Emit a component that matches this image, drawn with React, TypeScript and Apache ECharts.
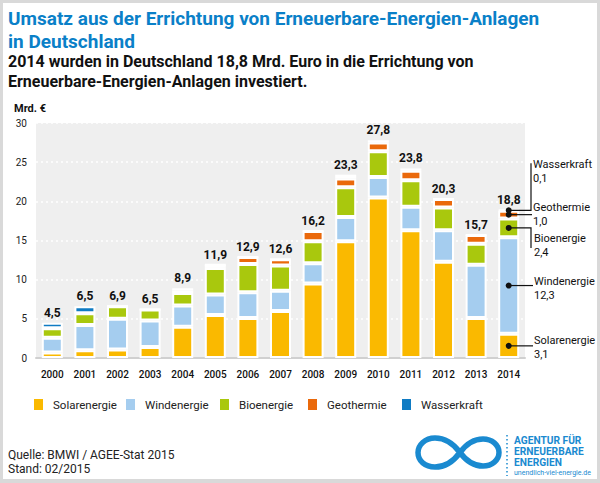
import React, { useEffect, useRef } from "react";
import * as echarts from "echarts";

const years = ["2000", "2001", "2002", "2003", "2004", "2005", "2006", "2007", "2008", "2009", "2010", "2011", "2012", "2013", "2014"];
const solar = [0.7, 1.0, 1.1, 1.4, 4.0, 5.5, 5.1, 6.0, 9.5, 14.9, 20.5, 16.3, 12.3, 5.1, 3.1];
const wind = [1.9, 3.2, 3.9, 3.4, 2.7, 2.6, 3.3, 2.6, 2.6, 3.1, 2.6, 3.0, 4.0, 6.8, 12.3];
const bio = [1.2, 1.5, 1.6, 1.4, 1.6, 3.4, 3.6, 3.2, 2.8, 3.8, 3.3, 3.4, 2.9, 2.7, 2.4];
const geo = [0, 0, 0, 0, 0.3, 0.4, 0.9, 0.8, 1.3, 1.1, 1.1, 1.2, 1.1, 1.1, 1.0];
const wasser = [0.7, 0.9, 0, 0, 0.3, 0, 0, 0, 0, 0.5, 0.3, 0.3, 0, 0, 0.1];
const totals = [4.5, 6.5, 6.9, 6.5, 8.9, 11.9, 12.9, 12.6, 16.2, 23.3, 27.8, 23.8, 20.3, 15.7, 18.8];
const seriesNames = ["Solarenergie", "Windenergie", "Bioenergie", "Geothermie", "Wasserkraft"];
const yMin = 0;
const yMax = 30;
const yStep = 5;

const titleLines = ["Umsatz aus der Errichtung von Erneuerbare-Energien-Anlagen", "in Deutschland"];
const subtitleLines = ["2014 wurden in Deutschland 18,8 Mrd. Euro in die Errichtung von", "Erneuerbare-Energien-Anlagen investiert."];
const unitLabel = "Mrd. €";
const footerLines = ["Quelle: BMWI / AGEE-Stat 2015", "Stand: 02/2015"];
const logoLines = ["AGENTUR FÜR", "ERNEUERBARE", "ENERGIEN"];
const logoUrl = "unendlich-viel-energie.de";

const FONT = "Roboto, 'Liberation Sans', sans-serif";
const COLORS = ["#fab900", "#a5cdef", "#a9c80d", "#ea690b", "#0f7bc3"];
const PALE = ["#fde3a0", "#d6e8f7", "#dbe8a0", "#f7d8c0", "#cfe3f3"];
const FADED: number[][] = [[], [], [], [4, 5], [4, 10, 11]];
const BLUE = "#1a8ad0";
const LEGEND_X = [32, 124, 218, 306, 400];

const INFINITY_D =
  "M45,17.5 C52,8 60,4 68,4 C77,4 84,10 84,17.5 C84,25 77,31 68,31 C60,31 52,27 45,17.5 C38,8 30,3 20,3 C10,3 3,10 3,17.5 C3,26 10,32 20,32 C30,32 38,27 45,17.5 Z";
echarts.graphic.registerShape("aeeInfinity", echarts.graphic.extendPath(INFINITY_D, {}));

const fmt = (v: number) => v.toFixed(1).replace(".", ",");

export default function App() {
  const ref = useRef<HTMLDivElement>(null);

  useEffect(() => {
    if (!ref.current) return;
    const chart = echarts.init(ref.current, null, { renderer: "svg" });
    const layers = [solar, wind, bio, geo, wasser];

    const barSeries: any[] = layers.map((arr, si) => ({
      name: seriesNames[si],
      type: "bar",
      stack: "total",
      barWidth: 21,
      itemStyle: { color: COLORS[si], borderColor: "#ffffff", borderWidth: 2 },
      data: arr.map((v, i) => (FADED[si].includes(i) ? { value: v, itemStyle: { color: PALE[si] } } : v)),
    }));
    barSeries.push({
      name: "Summe",
      type: "bar",
      stack: "total",
      barWidth: 21,
      silent: true,
      itemStyle: { color: "transparent", borderWidth: 0 },
      label: {
        show: true,
        position: "top",
        distance: 4,
        formatter: (p: any) => fmt(totals[p.dataIndex]),
        fontFamily: FONT,
        fontWeight: "bold",
        fontSize: 12,
        color: "#111",
      },
      data: totals.map(() => 0),
    });

    const staticGraphics: any[] = [];
    titleLines.forEach((t, i) =>
      staticGraphics.push({
        type: "text",
        x: 8,
        y: 18 + i * 23,
        style: { text: t, fontFamily: FONT, fontWeight: "bold", fontSize: 19, fill: "#0a80c8", verticalAlign: "middle" },
      })
    );
    subtitleLines.forEach((t, i) =>
      staticGraphics.push({
        type: "text",
        x: 8,
        y: 61 + i * 20,
        style: { text: t, fontFamily: FONT, fontWeight: "bold", fontSize: 16, fill: "#111", verticalAlign: "middle" },
      })
    );
    staticGraphics.push({
      type: "text",
      x: 14,
      y: 108,
      style: { text: unitLabel, fontFamily: FONT, fontWeight: "bold", fontSize: 11, fill: "#111", verticalAlign: "middle" },
    });
    footerLines.forEach((t, i) =>
      staticGraphics.push({
        type: "text",
        x: 8,
        y: 455 + i * 14,
        style: { text: t, fontFamily: FONT, fontSize: 12, fill: "#222", verticalAlign: "middle" },
      })
    );
    // logo
    staticGraphics.push({
      type: "aeeInfinity",
      x: 415,
      y: 435,
      style: { fill: "none", stroke: BLUE, lineWidth: 5.5 },
    });
    staticGraphics.push({
      type: "line",
      shape: { x1: 507, y1: 435, x2: 507, y2: 476 },
      style: { stroke: BLUE, lineWidth: 1.5, lineDash: [1.5, 2.5] },
    });
    logoLines.forEach((t, i) =>
      staticGraphics.push({
        type: "text",
        x: 514,
        y: 440.5 + i * 11,
        style: {
          text: t,
          fontFamily: FONT,
          fontWeight: "bold",
          fontSize: 10.2,
          lineHeight: 10,
          fill: BLUE,
          verticalAlign: "middle",
        },
      })
    );
    staticGraphics.push({
      type: "text",
      x: 514,
      y: 473,
      style: { text: logoUrl, fontFamily: FONT, fontSize: 7, lineHeight: 7, fill: BLUE, verticalAlign: "middle" },
    });
    // frame
    [
      [0, 0, 600, 3],
      [0, 0, 3, 483],
      [597, 0, 3, 483],
      [0, 479, 600, 4],
    ].forEach(([x, y, w, h]) =>
      staticGraphics.push({ type: "rect", shape: { x, y, width: w, height: h }, style: { fill: "#d9d9d9" }, z: 100 })
    );

    const legends = seriesNames.map((name, i) => ({
      data: [name],
      left: LEGEND_X[i],
      top: 397,
      padding: 0,
      icon: "rect",
      itemWidth: 11,
      itemHeight: 13,
      textStyle: { fontFamily: FONT, fontSize: 11.5, color: "#222", padding: [0, 0, 0, 4] },
    }));

    chart.setOption({
      animation: false,
      backgroundColor: "#ffffff",
      textStyle: { fontFamily: FONT },
      grid: { left: 36, top: 123, width: 489, height: 235, show: true, backgroundColor: "#efefef", borderWidth: 0 },
      legend: legends,
      xAxis: {
        type: "category",
        data: years,
        axisTick: { show: false },
        axisLine: { lineStyle: { color: "#d0d0d0", width: 2 } },
        axisLabel: { fontFamily: FONT, fontSize: 10, fontWeight: 500, color: "#111", margin: 11 },
      },
      yAxis: {
        type: "value",
        min: yMin,
        max: yMax,
        interval: yStep,
        axisLine: { show: false },
        axisTick: { show: false },
        axisLabel: { fontFamily: FONT, fontSize: 10, color: "#222", margin: 9 },
        splitLine: { lineStyle: { color: "#ffffff", width: 1.5, type: [2, 3] } },
      },
      series: barSeries,
      graphic: staticGraphics,
    });

    // annotations for the last year
    const last = years.length - 1;
    let cum = 0;
    const pts = layers.map((arr) => {
      const b = cum;
      cum += arr[last];
      return chart.convertToPixel({ gridIndex: 0 } as any, [last, (b + cum) / 2]) as number[];
    });
    const cfg = [
      { lx: 533, vy: 0, tx: 534, ty: 2 },
      { lx: 533, vy: 0, tx: 534, ty: 3 },
      { lx: 531, vy: 20, tx: 534, ty: 18 },
      { lx: 532, vy: 0, tx: 533, ty: 0 },
      { lx: 531, vy: -47, tx: 533, ty: -39 },
    ];
    const ann: any[] = [];
    pts.forEach((p, i) => {
      const c = cfg[i];
      const [x, y] = p;
      const points: number[][] = [[x, y], [c.lx, y]];
      if (c.vy !== 0) points.push([c.lx, y + c.vy]);
      ann.push({ type: "polyline", shape: { points }, style: { stroke: "#111", lineWidth: 1.2, fill: "none" }, z: 50 });
      ann.push({ type: "circle", shape: { cx: x, cy: y, r: 3 }, style: { fill: "#111" }, z: 51 });
      ann.push({
        type: "text",
        x: c.tx,
        y: y + c.ty,
        z: 52,
        style: {
          text: `${seriesNames[i]}\n${fmt(layers[i][last])}`,
          fontFamily: FONT,
          fontSize: 11,
          lineHeight: 14,
          fill: "#111",
          verticalAlign: "middle",
        },
      });
    });
    chart.setOption({ graphic: [...staticGraphics, ...ann] });

    return () => chart.dispose();
  }, []);

  return <div ref={ref} style={{ position: "absolute", left: 0, top: 0, width: 600, height: 483 }} />;
}
